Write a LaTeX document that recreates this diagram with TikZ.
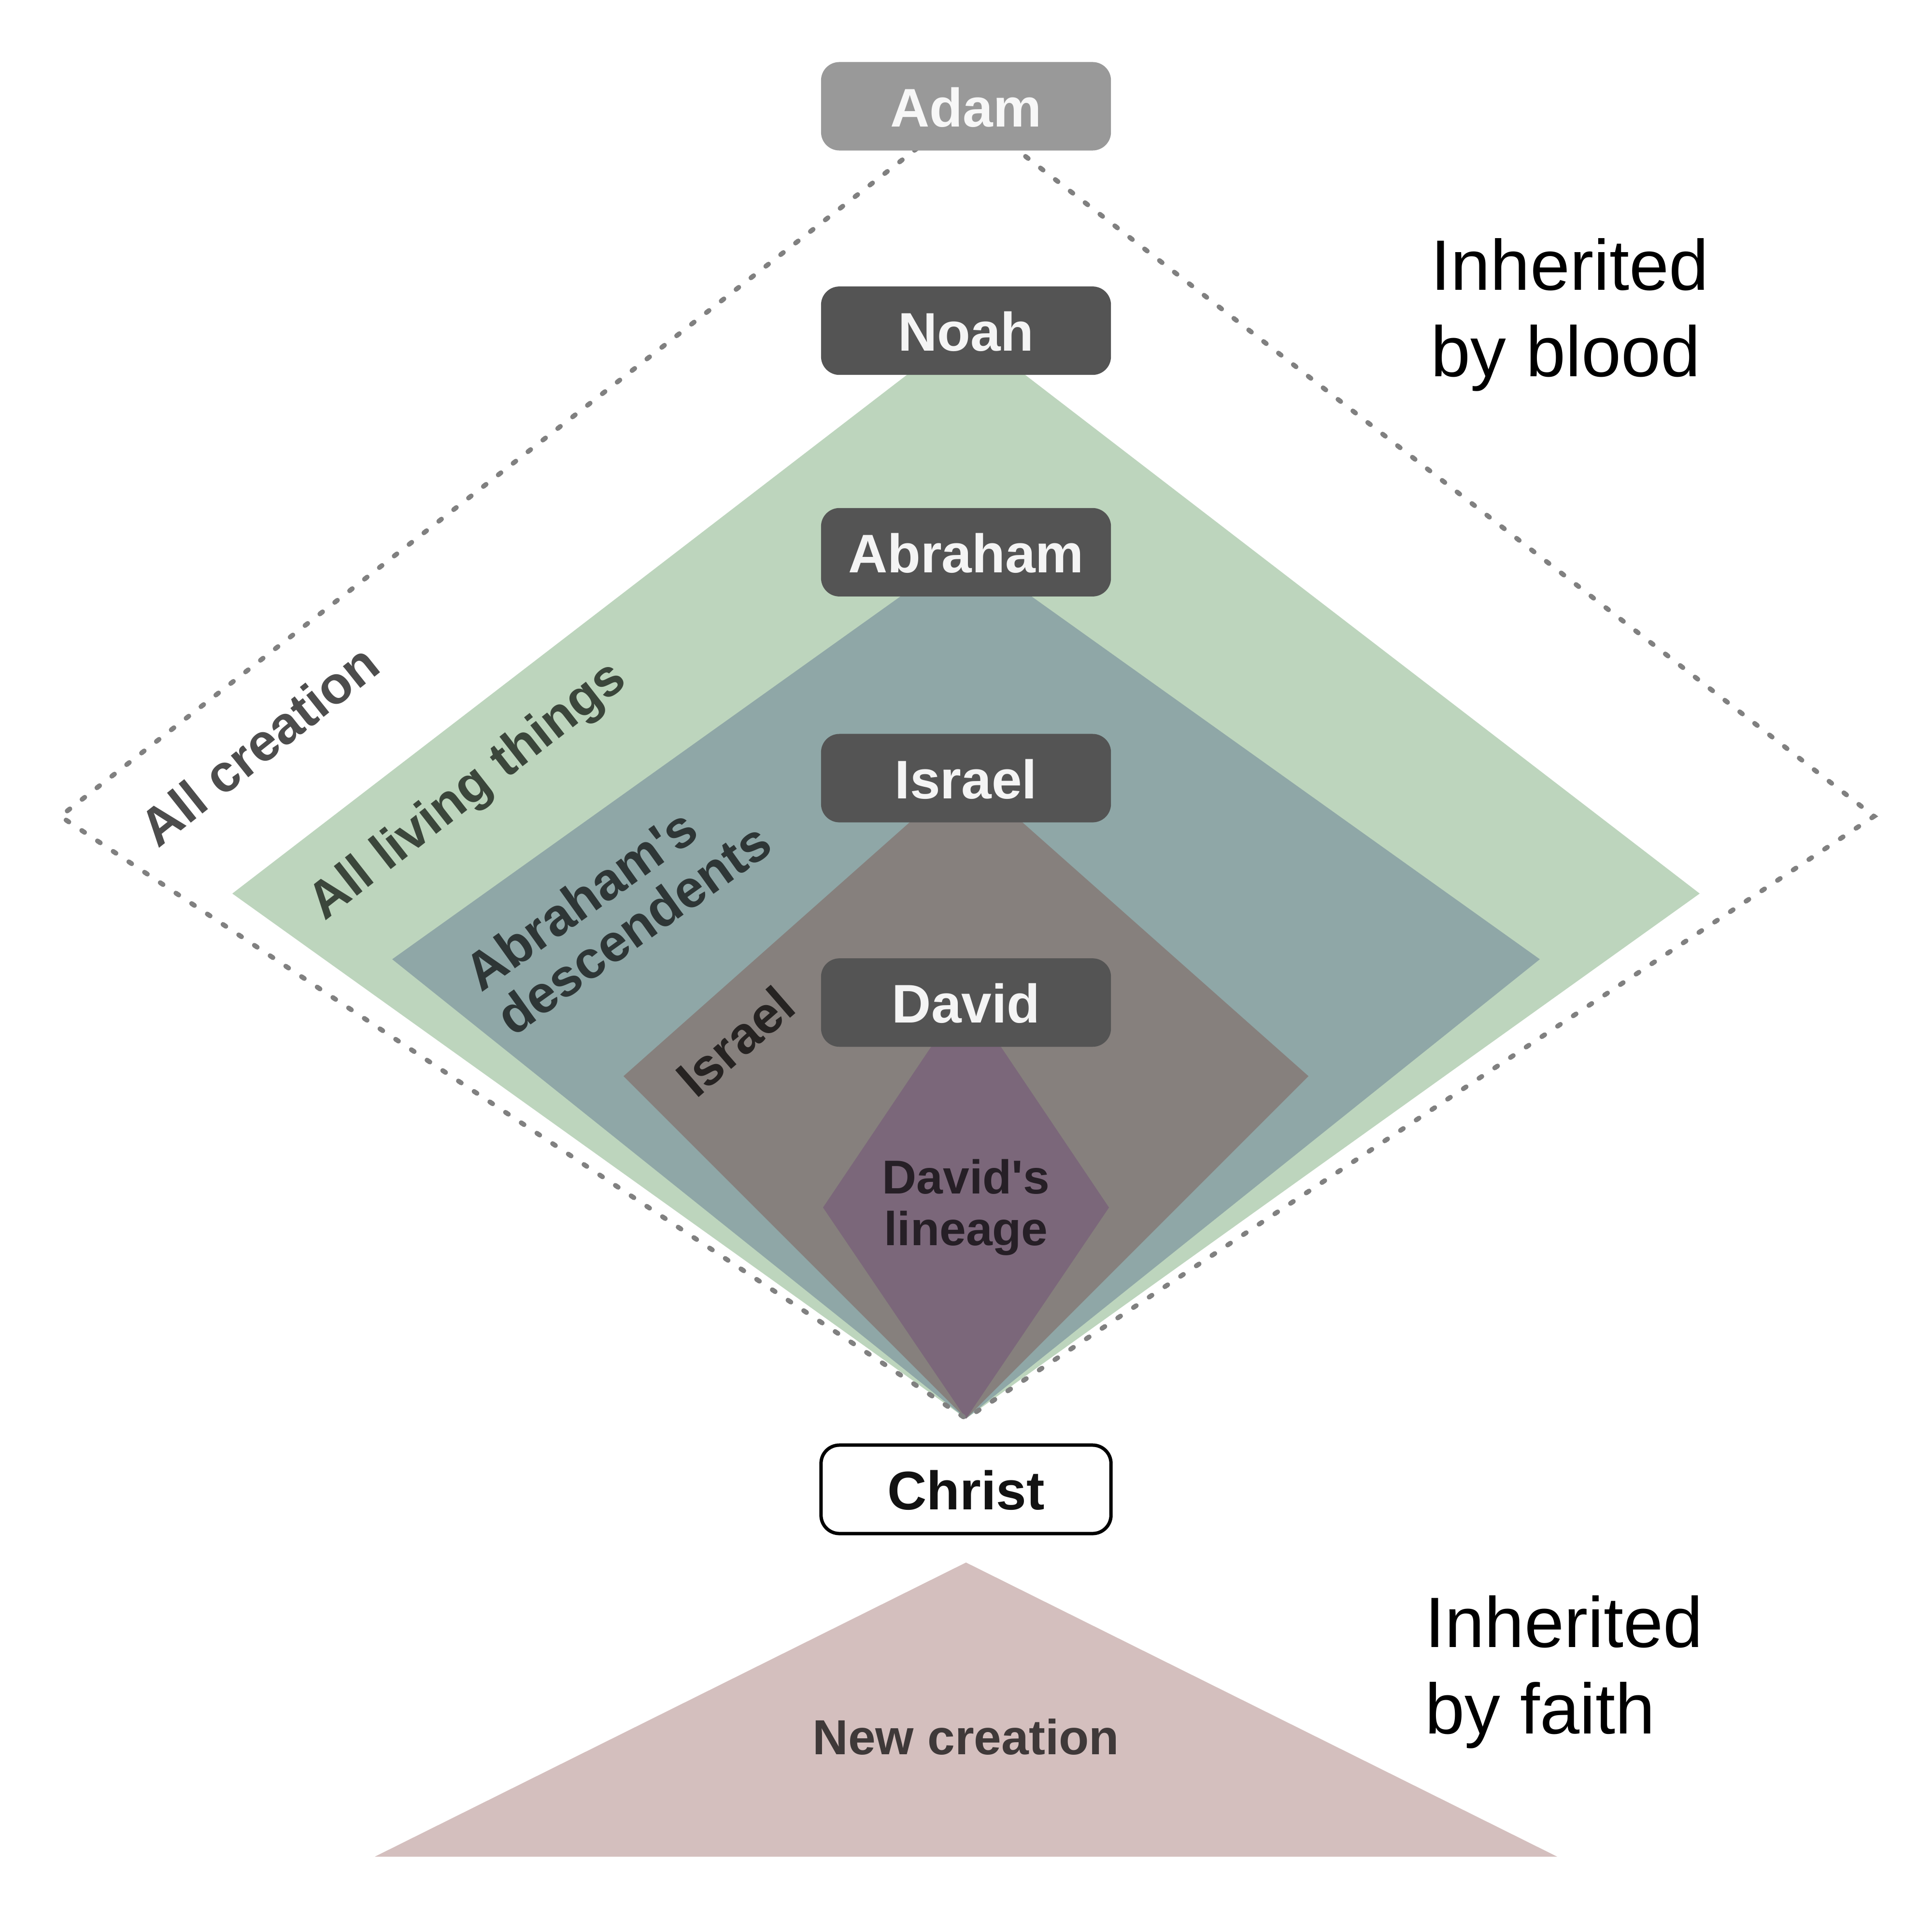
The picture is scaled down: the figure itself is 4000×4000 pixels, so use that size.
\documentclass[tikz,border=0pt]{standalone}
\usepackage{fontspec}
\setmainfont{Liberation Sans}
\usetikzlibrary{positioning}

\definecolor{adamgray}{HTML}{999999}
\definecolor{boxgray}{HTML}{545454}
\definecolor{boxtext}{HTML}{F4F4F4}
\definecolor{dotgray}{HTML}{808080}
\definecolor{livegreen}{HTML}{BDD5BD}
\definecolor{seedblue}{HTML}{8FA7A7}
\definecolor{nationgray}{HTML}{86807D}
\definecolor{lineagepurple}{HTML}{7B677A}
\definecolor{newpink}{HTML}{D4BFBE}
\definecolor{creationtext}{HTML}{4D4D4D}
\definecolor{livingtext}{HTML}{3B463B}
\definecolor{seedtext}{HTML}{2E3636}
\definecolor{nationtext}{HTML}{262322}
\definecolor{lineagetext}{HTML}{261F26}
\definecolor{newtext}{HTML}{3F3939}

\begin{document}
\begin{tikzpicture}[x=0.01cm, y=-0.01cm,
person/.style = {rectangle, rounded corners=0.38cm, fill=boxgray, text=boxtext,
	minimum width=6cm, minimum height=1.83cm, inner sep=0pt,
	text height=0.84cm, text depth=0pt, font=\fontsize{32}{36}\selectfont\bfseries},
region/.style = {inner sep=0pt, font=\fontsize{30.5}{32}\selectfont\bfseries},
side/.style = {anchor=west, align=left, inner sep=0pt, font=\fontsize{42}{51}\selectfont},
dots/.style = {draw=dotgray, line width=0.1cm, dash pattern=on 0.07cm off 0.32cm, line cap=round}]

\fill[white] (0,0) rectangle (4000,4000);

% nested regions
\fill[livegreen] (2000,682) -- (3519,1850) -- (2000,2937) -- (481,1850) -- cycle;
\fill[seedblue] (2000,1138) -- (3188,1986) -- (2000,2937) -- (812,1986) -- cycle;
\fill[nationgray] (2000,1599) -- (2709,2228) -- (2000,2937) -- (1291,2228) -- cycle;
\fill[lineagepurple] (2000,2060) -- (2296,2500) -- (2000,2937) -- (1704,2500) -- cycle;
\path[dots] (2000,228) -- (3880,1690) -- (2000,2937) -- (125,1690) -- cycle;
\fill[newpink] (2000,3235) -- (3224,3844) -- (776,3844) -- cycle;

% line of descent
\node[person, fill=adamgray, text=white!97!black] (adam) at (2000,220) {Adam};
\node[person, below=2.8cm of adam] (noah) {Noah};
\node[person, below=2.74cm of noah] (abraham) {Abraham};
\node[person, below=2.83cm of abraham] (israel) {Israel};
\node[person, below=2.8cm of israel] (david) {David};
\node[person, fill=white, draw=black, line width=0.07cm, text=black!93,
	below=8.2cm of david] (christ) {Christ};

% region labels
\node[region, text=creationtext, rotate=38.5, font=\fontsize{31}{33}\selectfont\bfseries]
	(creationlabel) at (536,1542) {All creation};
\node[region, text=livingtext, rotate=38] (livinglabel) at (970,1640) {All living things};
\node[region, text=seedtext, rotate=35.5, align=left, font=\fontsize{31}{32}\selectfont\bfseries]
	(seedlabel) at (1278,1876) {Abraham\textquotesingle s\\descendents};
\node[region, text=nationtext, rotate=41] (nationlabel) at (1522,2156) {Israel};
\node[region, text=lineagetext, align=center, font=\fontsize{28}{30.5}\selectfont\bfseries]
	(lineagelabel) at (2000,2500) {David\textquotesingle s\\lineage};
\node[region, text=newtext, font=\fontsize{29}{31}\selectfont\bfseries] (newlabel) at (2000,3596) {New creation};

\node[side] (bloodlabel) at (2962,652) {Inherited\\by blood};
\node[side] (faithlabel) at (2950,3462) {Inherited\\by faith};

\end{tikzpicture}
\end{document}
